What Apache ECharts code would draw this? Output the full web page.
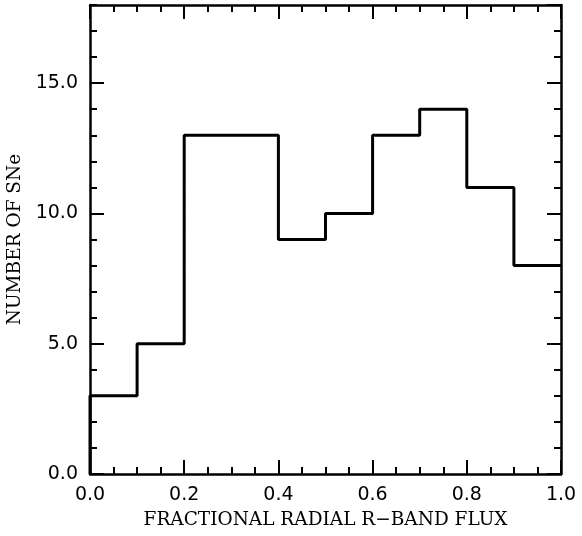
<!DOCTYPE html>
<html>
<head>
<meta charset="utf-8">
<script src="https://cdn.jsdelivr.net/npm/echarts@6/dist/echarts.min.js"></script>
<style>html,body{margin:0;padding:0;background:#fff;}#c{width:582px;height:536px;}</style>
</head>
<body>
<div id="c"></div>
<script>
// Histogram bins (left edges) and counts
var binLeftEdges = [0.0, 0.1, 0.2, 0.3, 0.4, 0.5, 0.6, 0.7, 0.8, 0.9];
var binRightEnd = 1.0;
var counts = [3, 5, 13, 13, 9, 10, 13, 14, 11, 8];
var xTitle = 'FRACTIONAL RADIAL R\u2212BAND FLUX';
var yTitle = 'NUMBER OF SNe';

var stepData = [[binLeftEdges[0], 0]];
for (var i = 0; i < binLeftEdges.length; i++) stepData.push([binLeftEdges[i], counts[i]]);
stepData.push([binRightEnd, counts[counts.length - 1]]);

var TFONT = 'DejaVu Serif';
var LFONT = 'DejaVu Sans';
var lineW = 2.5;
function xAx(pos, labels) {
  return {
    type: 'value', position: pos, min: 0, max: 1, interval: 0.2,
    name: labels ? xTitle : '', nameLocation: 'middle', nameGap: 37,
    nameTextStyle: {fontFamily: TFONT, fontSize: 18.5, color: '#000'},
    axisLine: {show: true, onZero: false, lineStyle: {color: '#000', width: lineW}},
    axisTick: {show: true, inside: true, length: 14, lineStyle: {color: '#000', width: 2}},
    minorTick: {show: true, splitNumber: 4, length: 7, lineStyle: {color: '#000', width: 2}},
    axisLabel: {show: labels, margin: 12, fontFamily: LFONT, fontSize: 19, color: '#000',
      formatter: function (v) { return v.toFixed(1); }},
    splitLine: {show: false}, minorSplitLine: {show: false}
  };
}
function yAx(pos, interval, len, labels, line) {
  return {
    type: 'value', position: pos, min: 0, max: 18, interval: interval,
    name: labels ? yTitle : '', nameLocation: 'middle', nameGap: 65, nameRotate: 90,
    nameTextStyle: {fontFamily: TFONT, fontSize: 18.5, color: '#000'},
    axisLine: {show: line, onZero: false, lineStyle: {color: '#000', width: lineW}},
    axisTick: {show: true, inside: true, length: len, lineStyle: {color: '#000', width: 2}},
    axisLabel: {show: labels, margin: 12, fontFamily: LFONT, fontSize: 19, color: '#000', showMaxLabel: false,
      formatter: function (v) { return (v % 5 === 0) ? v.toFixed(1) : ''; }},
    splitLine: {show: false}
  };
}
var chart = echarts.init(document.getElementById('c'), null, {renderer: 'canvas'});
chart.setOption({
  animation: false,
  backgroundColor: '#fff',
  grid: {left: 90, right: 21, top: 5, bottom: 62, containLabel: false, outerBoundsMode: 'none'},
  xAxis: [xAx('bottom', true), xAx('top', false)],
  yAxis: [yAx('left', 5, 14, true, true), yAx('left', 1, 7, false, false),
          yAx('right', 5, 14, false, true), yAx('right', 1, 7, false, false)],
  series: [{
    type: 'line', step: 'end', data: stepData, xAxisIndex: 0, yAxisIndex: 0,
    symbol: 'none', lineStyle: {color: '#000', width: 3}, clip: false
  }]
});
</script>
</body>
</html>
